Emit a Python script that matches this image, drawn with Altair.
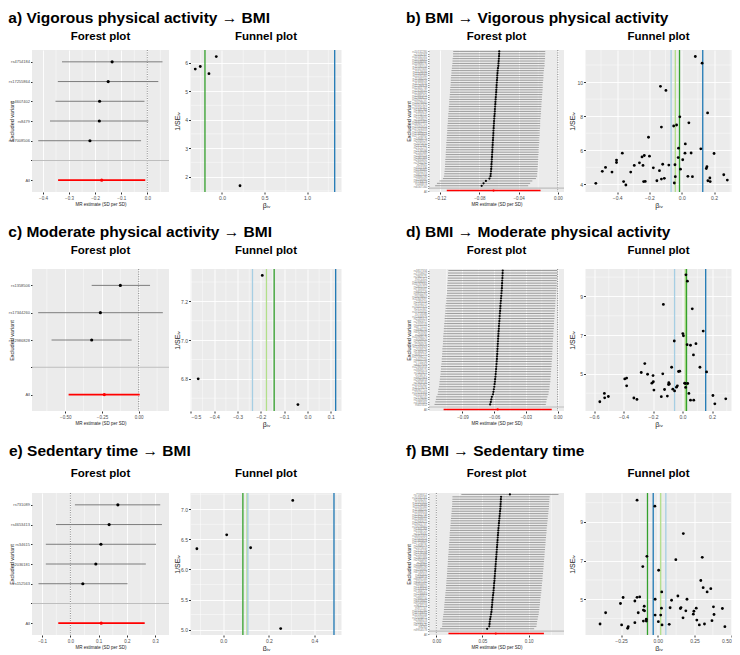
import altair as alt
import pandas as pd

FONT = "Liberation Sans"
LB, DB, LG, DG = "#A6CEE3", "#1F78B4", "#B2DF8A", "#33A02C"
XTITLE = "MR estimate (SD per SD)"
ZERO_REF = [0.0]

# ---------------- a) Vigorous physical activity -> BMI ----------------
a_snps = ["rs4754184", "rs17255864", "rs4607402", "rs8479", "rs17008506"]
a_est = [-0.135, -0.150, -0.183, -0.184, -0.220]
a_lo = [-0.327, -0.343, -0.352, -0.373, -0.418]
a_hi = [0.058, 0.042, -0.011, 0.004, -0.024]
a_all = [-0.175, -0.342, -0.008]
a_fx = [-0.314, -0.255, -0.153, -0.067, 0.212]
a_fy = [5.77, 5.86, 5.61, 6.21, 1.68]
a_lines = [-0.200, 1.325]
a_lcol = [DG, DB]

# ---------------- b) BMI -> Vigorous physical activity ----------------
b_snps = ["rs10132280", "rs1016287", "rs10182181", "rs10733682", "rs10938397", "rs10968576",
          "rs11030104", "rs11057405", "rs11126666", "rs11165643", "rs11191560", "rs11583200",
          "rs11688816", "rs11727676", "rs12286929", "rs12401738", "rs12429545", "rs12446632",
          "rs12885454", "rs12940622", "rs13021737", "rs13078960", "rs13107325", "rs13191362",
          "rs1441264", "rs1460676", "rs1516725", "rs1528435", "rs1558902", "rs16851483",
          "rs16907751", "rs17001654", "rs17024393", "rs17094222", "rs17405819", "rs17724992",
          "rs1808579", "rs2033529", "rs2075650", "rs2112347", "rs2121279", "rs2176598",
          "rs2245368", "rs2287019", "rs2365389", "rs2650492", "rs2820292", "rs29941",
          "rs3101336", "rs3736485", "rs3810291", "rs3817334", "rs3888190", "rs4256980",
          "rs4740619", "rs543874", "rs6567160"]
b_est = [-0.0597, -0.0598, -0.0599, -0.0601, -0.0603, -0.0605, -0.0606, -0.0610, -0.0613, -0.0615,
         -0.0617, -0.0618, -0.0620, -0.0622, -0.0624, -0.0625, -0.0627, -0.0628, -0.0630, -0.0632,
         -0.0634, -0.0636, -0.0637, -0.0639, -0.0641, -0.0642, -0.0644, -0.0646, -0.0648, -0.0650,
         -0.0651, -0.0653, -0.0654, -0.0656, -0.0657, -0.0658, -0.0660, -0.0661, -0.0663, -0.0664,
         -0.0666, -0.0667, -0.0668, -0.0670, -0.0671, -0.0673, -0.0674, -0.0676, -0.0677, -0.0679,
         -0.0681, -0.0684, -0.0686, -0.0697, -0.0733, -0.0757, -0.0776]
b_hw = [0.0469, 0.0470, 0.0468, 0.0471, 0.0470, 0.0469, 0.0472, 0.0470, 0.0471, 0.0469,
        0.0470, 0.0472, 0.0471, 0.0470, 0.0469, 0.0471, 0.0472, 0.0470, 0.0471, 0.0470,
        0.0472, 0.0471, 0.0470, 0.0472, 0.0471, 0.0470, 0.0473, 0.0471, 0.0472, 0.0470,
        0.0471, 0.0473, 0.0472, 0.0471, 0.0472, 0.0473, 0.0471, 0.0472, 0.0474, 0.0472,
        0.0473, 0.0472, 0.0474, 0.0473, 0.0472, 0.0474, 0.0473, 0.0474, 0.0472, 0.0473,
        0.0474, 0.0473, 0.0475, 0.0474, 0.0473, 0.0475, 0.0474]
b_all = [-0.0655, -0.1132, -0.0176]
b_fx = [-0.532, -0.492, -0.472, -0.432, -0.404, -0.404, -0.368, -0.360, -0.346, -0.316,
        -0.294, -0.262, -0.246, -0.240, -0.232, -0.236, -0.226, -0.206, -0.200, -0.176,
        -0.154, -0.138, -0.132, -0.126, -0.126, -0.118, -0.108, -0.098, -0.080, -0.050,
        -0.042, -0.046, -0.040, -0.032, -0.022, -0.020, -0.012, -0.008, 0.006, 0.020,
        0.022, 0.038, 0.044, 0.058, 0.066, 0.084, 0.118, 0.126, 0.152, 0.156,
        0.160, 0.162, 0.174, 0.176, 0.200, 0.260, 0.282]
b_fy = [4.06, 4.76, 4.99, 4.72, 5.28, 5.42, 5.83, 4.16, 3.96, 4.72,
        5.11, 5.26, 5.61, 5.11, 5.69, 4.16, 4.17, 6.76, 5.65, 4.97,
        4.21, 4.80, 9.75, 7.36, 4.31, 5.18, 4.35, 9.51, 5.13, 7.42,
        5.15, 4.08, 4.45, 7.48, 5.57, 6.12, 7.96, 4.89, 5.44, 5.83,
        6.37, 4.47, 7.61, 5.84, 4.45, 11.50, 6.08, 11.11, 4.93, 5.03,
        8.19, 4.21, 4.37, 4.16, 5.81, 4.56, 4.25]
b_lines = [-0.066, -0.040, -0.014, 0.130]
b_lcol = [LB, LG, DG, DB]

# ---------------- c) Moderate physical activity -> BMI ----------------
c_snps = ["rs1358506", "rs17344260", "rs12986828"]
c_est = [-0.125, -0.261, -0.320]
c_lo = [-0.320, -0.684, -0.593]
c_hi = [0.077, 0.164, -0.048]
c_all = [-0.234, -0.477, 0.007]
c_fx = [-0.469, -0.194, -0.041]
c_fy = [6.800, 7.334, 6.667]
c_lines = [-0.236, -0.176, -0.143, 0.121]
c_lcol = [LB, LG, DG, DB]

# ---------------- d) BMI -> Moderate physical activity ----------------
d_snps = ["rs3817334", "rs1558902", "rs2867125", "rs571312", "rs10938397", "rs10767664",
          "rs2815752", "rs7359397", "rs9816226", "rs3810291", "rs13078807", "rs11847697",
          "rs2287019", "rs1514175", "rs13107325", "rs2112347", "rs10150332", "rs713586",
          "rs12444979", "rs2241423", "rs2890652", "rs1555543", "rs4771122", "rs4836133",
          "rs4929949", "rs206936", "rs10968576", "rs9568856", "rs2820292", "rs12286929",
          "rs11165643", "rs2033529", "rs1460676", "rs16951275", "rs17094222", "rs9400239",
          "rs7715256", "rs6477694", "rs12885454", "rs3849570", "rs1167827", "rs758747",
          "rs9925964", "rs2080454", "rs7903146", "rs13191362", "rs11727676", "rs16907751",
          "rs17024393", "rs3101336", "rs2176040", "rs1000940", "rs4787491", "rs657452"]
d_est = [-0.0519, -0.0520, -0.0521, -0.0522, -0.0524, -0.0525, -0.0526, -0.0527, -0.0529, -0.0531,
         -0.0533, -0.0535, -0.0537, -0.0539, -0.0541, -0.0542, -0.0544, -0.0546, -0.0548, -0.0549,
         -0.0551, -0.0553, -0.0555, -0.0556, -0.0558, -0.0560, -0.0561, -0.0563, -0.0564, -0.0566,
         -0.0567, -0.0569, -0.0570, -0.0571, -0.0573, -0.0574, -0.0576, -0.0578, -0.0580, -0.0582,
         -0.0584, -0.0586, -0.0588, -0.0591, -0.0593, -0.0596, -0.0599, -0.0603, -0.0607, -0.0611,
         -0.0622, -0.0627, -0.0632, -0.0638]
d_hw = [0.0514, 0.0516, 0.0515, 0.0517, 0.0515, 0.0516, 0.0518, 0.0516, 0.0517, 0.0515,
        0.0517, 0.0518, 0.0516, 0.0517, 0.0519, 0.0517, 0.0518, 0.0516, 0.0518, 0.0519,
        0.0517, 0.0519, 0.0518, 0.0520, 0.0518, 0.0519, 0.0521, 0.0519, 0.0520, 0.0518,
        0.0520, 0.0521, 0.0519, 0.0521, 0.0520, 0.0522, 0.0520, 0.0521, 0.0523, 0.0521,
        0.0522, 0.0521, 0.0523, 0.0522, 0.0524, 0.0522, 0.0523, 0.0525, 0.0523, 0.0524,
        0.0526, 0.0524, 0.0525, 0.0526]
d_all = [-0.0567, -0.1078, -0.0056]
d_fx = [-0.561, -0.530, -0.528, -0.503, -0.392, -0.379, -0.379, -0.330, -0.309, -0.280,
        -0.256, -0.237, -0.208, -0.200, -0.198, -0.194, -0.144, -0.134, -0.130, -0.122,
        -0.103, -0.095, -0.093, -0.089, -0.074, -0.066, -0.056, -0.054, -0.041, -0.035,
        -0.027, -0.019, 0.002, 0.006, 0.014, 0.019, 0.021, 0.023, 0.031, 0.033,
        0.035, 0.043, 0.054, 0.054, 0.066, 0.074, 0.076, 0.091, 0.118, 0.140,
        0.163, 0.206, 0.219, 0.293]
d_fy = [3.56, 3.99, 3.76, 3.83, 4.74, 4.78, 4.38, 3.75, 3.68, 5.07,
        5.53, 4.98, 4.52, 4.91, 4.59, 4.16, 3.82, 5.00, 8.59, 4.19,
        3.85, 4.45, 4.54, 4.47, 5.34, 4.21, 6.70, 4.12, 4.31, 4.38,
        5.12, 5.14, 7.08, 6.97, 4.52, 4.50, 4.30, 10.12, 6.51, 9.79,
        4.50, 3.99, 6.48, 3.64, 8.36, 5.98, 3.64, 6.56, 5.34, 7.21,
        5.10, 3.88, 3.45, 3.71]
d_lines = [-0.054, 0.019, 0.027, 0.157]
d_lcol = [LB, LG, DG, DB]

# ---------------- e) Sedentary time -> BMI ----------------
e_snps = ["rs731089", "rs4653413", "rs34615", "rs2036181", "rs152563"]
e_est = [0.168, 0.137, 0.108, 0.090, 0.044]
e_lo = [0.016, -0.051, -0.087, -0.087, -0.113]
e_hi = [0.318, 0.324, 0.303, 0.267, 0.202]
e_all = [0.109, -0.043, 0.263]
e_fx = [-0.116, 0.015, 0.120, 0.252, 0.305]
e_fy = [6.343, 6.575, 6.360, 5.016, 7.147]
e_lines = [0.086, 0.104, 0.108, 0.486]
e_lcol = [DG, LG, LB, DB]

# ---------------- f) BMI -> Sedentary time ----------------
f_snps = ["rs7599312", "rs10182181", "rs1016287", "rs11057405", "rs11126666", "rs11191560",
          "rs11583200", "rs11688816", "rs12401738", "rs12429545", "rs12446632", "rs12940622",
          "rs13021737", "rs13078960", "rs1441264", "rs1516725", "rs1528435", "rs16851483",
          "rs17001654", "rs17405819", "rs17724992", "rs1808579", "rs2075650", "rs2121279",
          "rs2176598", "rs2245368", "rs2365389", "rs2650492", "rs29941", "rs3736485",
          "rs3888190", "rs4256980", "rs4740619", "rs492400", "rs543874", "rs6091540",
          "rs6567160", "rs6804842", "rs7138803", "rs7141420", "rs7164727", "rs7239883",
          "rs7243357", "rs7899106", "rs9374842", "rs9540493", "rs9641123", "rs977747",
          "rs10132280", "rs10733682", "rs11030104", "rs12016871", "rs1808578", "rs2033732",
          "rs4740620", "rs6265", "rs9914578"]
f_est = [0.0798, 0.0702, 0.0700, 0.0699, 0.0697, 0.0696, 0.0694, 0.0691, 0.0689, 0.0686,
         0.0684, 0.0681, 0.0679, 0.0677, 0.0674, 0.0672, 0.0670, 0.0668, 0.0666, 0.0664,
         0.0662, 0.0660, 0.0658, 0.0656, 0.0654, 0.0652, 0.0650, 0.0648, 0.0646, 0.0644,
         0.0642, 0.0640, 0.0638, 0.0636, 0.0634, 0.0632, 0.0630, 0.0627, 0.0625, 0.0623,
         0.0621, 0.0618, 0.0615, 0.0612, 0.0609, 0.0607, 0.0605, 0.0602, 0.0600, 0.0597,
         0.0593, 0.0588, 0.0584, 0.0579, 0.0577, 0.0574, 0.0551]
f_hw = [0.0527, 0.0528, 0.0526, 0.0527, 0.0525, 0.0526, 0.0527, 0.0525, 0.0526, 0.0524,
        0.0525, 0.0526, 0.0524, 0.0525, 0.0523, 0.0524, 0.0525, 0.0523, 0.0524, 0.0522,
        0.0523, 0.0524, 0.0522, 0.0523, 0.0521, 0.0522, 0.0523, 0.0521, 0.0522, 0.0520,
        0.0521, 0.0522, 0.0520, 0.0521, 0.0519, 0.0520, 0.0521, 0.0519, 0.0520, 0.0518,
        0.0519, 0.0520, 0.0518, 0.0519, 0.0517, 0.0518, 0.0519, 0.0517, 0.0518, 0.0516,
        0.0517, 0.0516, 0.0515, 0.0514, 0.0513, 0.0512, 0.0510]
f_all = [0.0645, 0.0131, 0.1167]
f_fx = [-0.393, -0.355, -0.254, -0.246, -0.236, -0.205, -0.201, -0.156, -0.156, -0.141,
        -0.141, -0.133, -0.123, -0.102, -0.098, -0.098, -0.092, -0.090, -0.078, -0.078,
        -0.074, -0.020, -0.018, -0.018, 0.004, 0.006, 0.020, 0.025, 0.027, 0.029,
        0.078, 0.084, 0.094, 0.123, 0.137, 0.154, 0.158, 0.172, 0.174, 0.191,
        0.199, 0.242, 0.246, 0.262, 0.266, 0.283, 0.293, 0.303, 0.309, 0.318,
        0.336, 0.361, 0.369, 0.379, 0.383, 0.440, 0.457]
f_fy = [3.72, 4.30, 4.78, 3.67, 5.09, 3.50, 3.58, 3.79, 4.91, 5.10,
        10.13, 4.30, 5.12, 6.69, 4.44, 3.87, 4.64, 4.40, 3.97, 3.87,
        7.22, 9.82, 5.00, 4.18, 3.84, 6.50, 4.18, 4.54, 5.38, 3.67,
        3.70, 4.56, 4.95, 7.05, 5.17, 4.52, 4.57, 4.04, 8.40, 4.40,
        5.00, 4.23, 4.38, 4.54, 3.92, 3.67, 5.97, 7.17, 5.60, 3.72,
        5.38, 5.55, 3.89, 4.61, 4.21, 4.52, 3.58]
f_lines = [-0.070, -0.031, 0.020, 0.055]
f_lcol = [DG, DB, LG, LB]


def forest(snps, est, lo, hi, allv, xdom, xt, xminor, fmt, lab_fs, pt, w, h, sub_off, dense):
    cats = snps + [" ", "All"]
    df = pd.DataFrame({"snp": snps, "b": est, "lo": lo, "hi": hi})
    dall = pd.DataFrame({"snp": ["All"], "b": [allv[0]], "lo": [allv[1]], "hi": [allv[2]]})
    xs = alt.Scale(domain=xdom, nice=False, zero=False)
    ys = alt.Scale(domain=cats, type="point", padding=0.6)
    xax = alt.Axis(values=xt, format=fmt, title=XTITLE, labelFontSize=4.5, titleFontSize=4.5,
                   tickSize=2, labelPadding=1, titlePadding=2, gridWidth=0.9)
    yax = alt.Axis(title="Excluded variant", labelFontSize=lab_fs, titleFontSize=5.5,
                   tickSize=1.5, labelPadding=1, titlePadding=1, minExtent=17, maxExtent=17,
                   gridWidth=0.6 if dense else 0.8,
                   labelColor="#777777" if dense else "#4D4D4D",
                   tickColor="#999999" if dense else "#333333")

    def X(f):
        return alt.X(f, scale=xs, axis=xax)

    Y = alt.Y("snp:N", scale=ys, axis=yax)
    minor = alt.Chart(pd.DataFrame({"m": xminor})).mark_rule(
        color="white", strokeWidth=0.45, clip=True).encode(x=X("m:Q"))
    zero = alt.Chart(pd.DataFrame({"z": ZERO_REF})).mark_rule(
        color="#555555", strokeDash=[1, 1.4], strokeWidth=0.7).encode(x=X("z:Q"))
    sep = alt.Chart(pd.DataFrame({"snp": [" "]})).mark_rule(
        color="#BEBEBE", strokeWidth=1.1).encode(y=Y)
    bars = alt.Chart(df).mark_rule(color="#8E8E8E" if dense else "#707070",
                                   strokeWidth=0.85 if dense else 0.9).encode(
        x=X("lo:Q"), x2="hi:Q", y=Y)
    pts = alt.Chart(df).mark_circle(color="black", size=pt, opacity=1).encode(x=X("b:Q"), y=Y)
    abar = alt.Chart(dall).mark_rule(color="#FF0000", strokeWidth=1.6).encode(
        x=X("lo:Q"), x2="hi:Q", y=Y)
    apt = alt.Chart(dall).mark_circle(color="#FF0000", size=pt, opacity=1).encode(x=X("b:Q"), y=Y)
    return alt.layer(minor, zero, sep, bars, pts, abar, apt).properties(
        width=w, height=h,
        title=alt.TitleParams("Forest plot", fontSize=11.5, fontWeight="bold",
                              anchor="middle", offset=sub_off))


def funnel(fx, fy, lines, lcol, xdom, ydom, xt, yt, xminor, yminor, xfmt, yfmt, w, h, sub_off):
    xs = alt.Scale(domain=xdom, nice=False, zero=False)
    ys = alt.Scale(domain=ydom, nice=False, zero=False)
    xax = alt.Axis(values=xt, format=xfmt, title="βᵢᵥ", labelFontSize=5, titleFontSize=7,
                   tickSize=2, labelPadding=1, titlePadding=1, gridWidth=0.9)
    yax = alt.Axis(values=yt, format=yfmt, title="1/SEᵢᵥ", labelFontSize=5, titleFontSize=7,
                   tickSize=2, labelPadding=1, titlePadding=1, minExtent=9, maxExtent=9,
                   gridWidth=0.9)
    mx = alt.Chart(pd.DataFrame({"m": xminor})).mark_rule(
        color="white", strokeWidth=0.45, clip=True).encode(x=alt.X("m:Q", scale=xs, axis=xax))
    my = alt.Chart(pd.DataFrame({"m": yminor})).mark_rule(
        color="white", strokeWidth=0.45, clip=True).encode(y=alt.Y("m:Q", scale=ys, axis=yax))
    vl = alt.Chart(pd.DataFrame({"b": lines, "c": lcol})).mark_rule(strokeWidth=1.3).encode(
        x=alt.X("b:Q", scale=xs, axis=xax), color=alt.Color("c:N", scale=None, legend=None))
    pts = alt.Chart(pd.DataFrame({"b": fx, "p": fy})).mark_circle(
        color="black", size=8, opacity=1).encode(
        x=alt.X("b:Q", scale=xs, axis=xax), y=alt.Y("p:Q", scale=ys, axis=yax))
    return alt.layer(mx, my, vl, pts).properties(
        width=w, height=h,
        title=alt.TitleParams("Funnel plot", fontSize=11.5, fontWeight="bold",
                              anchor="middle", offset=sub_off))


def panel(title, f, g, toff):
    return alt.hconcat(f, g, spacing=3.5).properties(
        title=alt.TitleParams(title, fontSize=15.5, fontWeight="bold", anchor="start",
                              frame="bounds", offset=toff))


def add(e, hw):
    return [round(a + b, 4) for a, b in zip(e, hw)]


def sub(e, hw):
    return [round(a - b, 4) for a, b in zip(e, hw)]


H = 142
LW, LFW = 137, 151
RW, RFW = 135, 146

pa = panel("a) Vigorous physical activity → BMI",
           forest(a_snps, a_est, a_lo, a_hi, a_all, [-0.442, 0.083], [-0.4, -0.3, -0.2, -0.1, 0.0],
                  [-0.35, -0.25, -0.15, -0.05, 0.05], ".1f", 4, 10, LW, H, 7, False),
           funnel(a_fx, a_fy, a_lines, a_lcol, [-0.37, 1.405], [1.46, 6.44], [0.0, 0.5, 1.0],
                  [2, 3, 4, 5, 6], [-0.25, 0.25, 0.75, 1.25], [1.5, 2.5, 3.5, 4.5, 5.5],
                  ".1f", "d", LFW, H, 7), 4)
pb = panel("b) BMI → Vigorous physical activity",
           forest(b_snps, b_est, sub(b_est, b_hw), add(b_est, b_hw), b_all, [-0.1313, 0.0063],
                  [-0.12, -0.08, -0.04, 0.0], [-0.10, -0.06, -0.02], ".2f", 2.8, 5, RW, H, 7, True),
           funnel(b_fx, b_fy, b_lines, b_lcol, [-0.596, 0.308], [3.55, 11.88], [-0.4, -0.2, 0.0, 0.2],
                  [4, 6, 8, 10], [-0.5, -0.3, -0.1, 0.1, 0.3], [5, 7, 9, 11], ".1f", "d", RFW, H, 7), 4)

pc = panel("c) Moderate physical activity → BMI",
           forest(c_snps, c_est, c_lo, c_hi, c_all, [-0.726, 0.206], [-0.5, -0.25, 0.0],
                  [-0.625, -0.375, -0.125, 0.125], ".2f", 4, 10, LW, H, 12, False),
           funnel(c_fx, c_fy, c_lines, c_lcol, [-0.502, 0.146], [6.634, 7.367],
                  [-0.5, -0.4, -0.3, -0.2, -0.1, 0.0, 0.1], [6.8, 7.0, 7.2],
                  [-0.45, -0.35, -0.25, -0.15, -0.05, 0.05], [6.7, 6.9, 7.1, 7.3],
                  ".1f", ".1f", LFW, H, 12), 4)
pd_ = panel("d) BMI → Moderate physical activity",
            forest(d_snps, d_est, sub(d_est, d_hw), add(d_est, d_hw), d_all, [-0.1216, 0.006],
                   [-0.09, -0.06, -0.03, 0.0], [-0.105, -0.075, -0.045, -0.015], ".2f", 2.8, 5,
                   RW, H, 12, True),
            funnel(d_fx, d_fy, d_lines, d_lcol, [-0.658, 0.332], [3.08, 10.42],
                   [-0.6, -0.4, -0.2, 0.0, 0.2], [5, 7, 9], [-0.5, -0.3, -0.1, 0.1, 0.3],
                   [4, 6, 8, 10], ".1f", "d", RFW, H, 12), 4)

pe = panel("e) Sedentary time → BMI",
           forest(e_snps, e_est, e_lo, e_hi, e_all, [-0.136, 0.349], [-0.1, 0.0, 0.1, 0.2, 0.3],
                  [-0.05, 0.05, 0.15, 0.25], ".1f", 4, 10, LW, H, 13, False),
           funnel(e_fx, e_fy, e_lines, e_lcol, [-0.144, 0.519], [4.91, 7.27], [0.0, 0.2, 0.4],
                  [5.0, 5.5, 6.0, 6.5, 7.0], [-0.1, 0.1, 0.3, 0.5], [5.25, 5.75, 6.25, 6.75, 7.25],
                  ".1f", ".1f", LFW, H, 13), 8)
pf = panel("f) BMI → Sedentary time",
           forest(f_snps, f_est, sub(f_est, f_hw), add(f_est, f_hw), f_all, [-0.008, 0.1385],
                  [0.0, 0.05, 0.10], [0.025, 0.075, 0.125], ".2f", 2.8, 5, RW, H, 13, True),
           funnel(f_fx, f_fy, f_lines, f_lcol, [-0.492, 0.502], [3.15, 10.5],
                  [-0.25, 0.0, 0.25, 0.5], [5, 7, 9], [-0.375, -0.125, 0.125, 0.375],
                  [4, 6, 8, 10], ".2f", "d", RFW, H, 13), 8)

chart = alt.vconcat(
    alt.hconcat(pa, pb, spacing=64),
    alt.hconcat(pc, pd_, spacing=64),
    alt.hconcat(pe, pf, spacing=64),
    spacing=17,
).properties(
    padding={"top": 3, "left": 0, "right": 0, "bottom": 0}
).configure_view(
    fill="#EBEBEB", stroke=None
).configure_axis(
    labelFont=FONT, titleFont=FONT, labelColor="#4D4D4D", titleColor="#1A1A1A",
    tickColor="#333333", domain=False, gridColor="#FFFFFF", titleFontWeight="normal"
).configure_title(font=FONT, color="#000000")

chart.save("out.html", embed_options={"renderer": "svg", "actions": False})
